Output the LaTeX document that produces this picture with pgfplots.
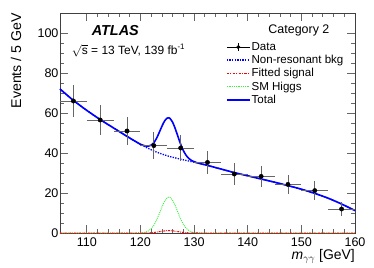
\documentclass[border=0pt]{standalone}
\usepackage{pgfplots}
\pgfplotsset{compat=1.18}
\usepackage{fontspec}
\setmainfont{Liberation Sans}
\definecolor{hgreen}{RGB}{60,240,60}
\begin{document}
\begin{tikzpicture}
\useasboundingbox (-60bp,-35bp) rectangle (314bp,233bp);
\begin{axis}[
 at={(0,0)}, anchor=south west,
 width=295bp, height=220bp, scale only axis,
 clip=false,
 xmin=105, xmax=160, ymin=0, ymax=110,
 xtick={110,120,...,160}, ytick={0,20,...,100},
 minor x tick num=4, minor y tick num=3,
 tick align=inside, tick pos=both,
 major tick length=8bp, minor tick length=4bp,
 every tick/.style={black!60, line width=0.8bp},
 axis line style={black!75, line width=0.8bp},
 ticklabel style={font=\fontsize{12.6}{14}\selectfont},
 /pgf/number format/assume math mode=true,
 xticklabel style={yshift=-1bp},
 yticklabel style={xshift=2bp},
 xlabel={\textit{m}$_{\gamma\gamma}$ [GeV]},
 xlabel style={at={(axis description cs:1,-0.075)}, anchor=north east, inner sep=0pt, font=\fontsize{14}{16}\selectfont},
 legend style={at={(0.562,0.872)}, anchor=north west, draw=none, fill=none,
   font=\fontsize{11.6}{13}\selectfont, inner sep=0pt, row sep=1.4bp,
   nodes={inner sep=1pt}},
 legend cell align=left,
 legend image code/.code={\draw[mark repeat=2,mark phase=2] plot coordinates {(0bp,0bp) (11.5bp,0bp) (23bp,0bp)};},
]
% SM Higgs
\addplot[hgreen, line width=0.9bp, dash pattern=on 1bp off 1bp, forget plot] coordinates {
(105,0)(119,0)(119.5,0.03)(120,0.07)(120.5,0.2)(121,0.49)(121.5,1.07)(122,2.14)(122.5,3.89)(123,6.41)(123.5,9.56)(124,12.94)(124.5,15.88)(125,17.69)(125.3,18.0)(125.5,17.86)(126,16.36)(126.5,13.59)(127,10.24)(127.5,7.0)(128,4.33)(128.5,2.44)(129,1.24)(129.5,0.57)(130,0.24)(130.5,0.09)(131,0.03)(132,0)(160,0)};
% Fitted signal
\addplot[red, line width=1bp, dash pattern=on 2bp off 1bp on 0.7bp off 1bp, forget plot] coordinates {
(105,0)(121,0)(122,0.14)(123,0.43)(124,0.86)(125,1.18)(125.3,1.2)(126,1.09)(127,0.68)(128,0.29)(129,0.08)(130,0.02)(131,0)(160,0)};
% Non-resonant background
\addplot[blue, line width=1.3bp, dash pattern=on 1.3bp off 1.3bp, smooth, forget plot] coordinates {
(105,72.0)(107.5,66.3)(110,61.3)(112.5,56.7)(115,52.5)(117.5,48.3)(120,44.3)(122.5,41.0)(125,38.6)(127.5,36.9)(130,35.4)(132.5,33.8)(135,32.0)(137.5,30.2)(140,28.6)(142.5,27.0)(145,25.4)(147.5,23.7)(150,21.9)(152.5,19.8)(155,17.4)(157.5,14.5)(160,11.2)};
% Total
\addplot[blue, line width=1.6bp, smooth, forget plot] coordinates {
(105,72.0)(107.5,66.3)(110,61.3)(112.5,56.7)(115,52.5)(117.5,48.3)(119,45.9)(119.5,45.13)(120,44.37)(120.5,43.85)(121,43.5)(121.5,43.46)(122,43.94)(122.5,45.15)(123,47.36)(123.5,50.24)(124,53.36)(124.5,56.02)(125,57.47)(125.3,57.6)(125.5,57.31)(126,55.37)(126.5,52.08)(127,48.16)(127.5,44.37)(128,41.22)(128.5,38.9)(129,37.32)(129.5,36.31)(130,35.66)(130.5,35.18)(131,34.79)(132.5,33.8)(135,32.0)(137.5,30.2)(140,28.6)(142.5,27.0)(145,25.4)(147.5,23.7)(150,21.9)(152.5,19.8)(155,17.4)(157.5,14.5)(160,11.2)};
% Data
\addplot[only marks, mark=*, mark size=2.2bp, black, forget plot,
  error bars/.cd, x dir=both, x explicit, y dir=both, y explicit,
  error bar style={black!60, line width=0.8bp}, error mark=none]
  table[x=x, y=y, x error=ex, y error=ey] {
x y ex ey
107.5 66.0 2.5 8.1
112.5 56.5 2.5 7.5
117.5 51.0 2.5 7.1
122.5 43.7 2.5 6.6
127.5 42.5 2.5 6.5
132.5 35.3 2.5 5.9
137.5 29.5 2.5 5.4
142.5 28.3 2.5 5.3
147.5 24.3 2.5 4.9
152.5 21.2 2.5 4.6
157.5 12.0 2.5 3.5
};
\addlegendimage{legend image code/.code={
  \draw[black, line width=0.9bp] (0bp,0bp) -- (23bp,0bp);
  \draw[black, line width=0.9bp] (11.5bp,-4bp) -- (11.5bp,4bp);
  \fill[black] (11.5bp,0bp) circle (1.8bp);}}
\addlegendentry{Data}
\addlegendimage{blue, line width=1.3bp, dash pattern=on 1.3bp off 1.3bp}
\addlegendentry{Non-resonant bkg}
\addlegendimage{red, line width=1.3bp, dash pattern=on 2.5bp off 1.2bp on 1bp off 1.2bp}
\addlegendentry{Fitted signal}
\addlegendimage{hgreen, line width=1bp, dash pattern=on 1bp off 0.8bp}
\addlegendentry{SM Higgs}
\addlegendimage{blue, line width=1.6bp}
\addlegendentry{Total}
\node[rotate=90, anchor=east, inner sep=0pt, font=\fontsize{14.2}{16}\selectfont] at (rel axis cs:-0.149,1) {Events / 5 GeV};
\node[anchor=west, inner sep=0pt, font=\fontsize{14.5}{16}\selectfont\bfseries\itshape] at (rel axis cs:0.107,0.922) {ATLAS};
\node[anchor=west, inner sep=0pt, font=\fontsize{12}{14}\selectfont] at (rel axis cs:0.040,0.830) {$\sqrt{\mbox{s}}$ = 13 TeV, 139 fb\textsuperscript{-1}};
\node[anchor=west, inner sep=0pt, font=\fontsize{12.5}{14}\selectfont] at (rel axis cs:0.706,0.920) {Category 2};
\end{axis}
\end{tikzpicture}
\end{document}
